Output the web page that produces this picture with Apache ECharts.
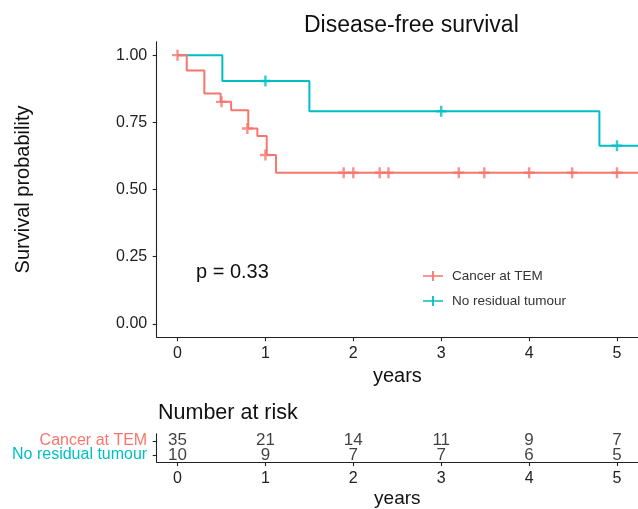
<!DOCTYPE html>
<html>
<head>
<meta charset="utf-8">
<script src="https://cdn.jsdelivr.net/npm/echarts@6/dist/echarts.min.js"></script>
<style>
html,body{margin:0;padding:0;background:#fff;}
#chart{width:638px;height:509px;}
</style>
</head>
<body>
<div id="chart"></div>
<script>
// ---- data ----
const groups = ['Cancer at TEM', 'No residual tumour'];
const xTicks = [0, 1, 2, 3, 4, 5];
const yTicks = [0, 0.25, 0.5, 0.75, 1];

const temTimes = [0, 0.105, 0.305, 0.49, 0.61, 0.805, 0.908, 1.015, 1.12, 5.3];
const temSurv  = [1, 0.943, 0.857, 0.826, 0.795, 0.727, 0.699, 0.628, 0.562, 0.562];
const temCensorTimes = [0, 0.5, 0.795, 1.0, 1.89, 2.0, 2.3, 2.4, 3.2, 3.49, 4.0, 4.49, 5.0];
const temCensorSurv  = [1, 0.826, 0.727, 0.628, 0.562, 0.562, 0.562, 0.562, 0.562, 0.562, 0.562, 0.562, 0.562];

const nrtTimes = [0, 0.51, 1.5, 4.8, 5.3];
const nrtSurv  = [1, 0.904, 0.791, 0.663, 0.663];
const nrtCensorTimes = [1.0, 3.0, 5.0];
const nrtCensorSurv  = [0.904, 0.791, 0.663];

const riskTimes = [0, 1, 2, 3, 4, 5];
const riskTem = [35, 21, 14, 11, 9, 7];
const riskNrt = [10, 9, 7, 7, 6, 5];

const pText = 'p = 0.33';

// ---- styles ----
const RED = '#F8766D', TEAL = '#00BFC4';
const FONT = '"Liberation Sans", Arial, Helvetica, sans-serif';
const PLUS = 'path://M0,3.9 L10,3.9 L10,6.1 L0,6.1 Z M3.9,0 L6.1,0 L6.1,10 L3.9,10 Z';
const LEG_ICON = 'path://M0,4.2 L20,4.2 L20,5.8 L0,5.8 Z M9.1,0 L10.9,0 L10.9,10 L9.1,10 Z';
const X_MIN = -0.237, X_MAX = 5.239;

const zip = (a, b) => a.map((v, i) => [v, b[i]]);

const axisLine = {show: true, onZero: false, lineStyle: {color: '#222', width: 1.1}};
const axisTick = {show: true, length: 4, lineStyle: {color: '#222', width: 1.1}};

const chart = echarts.init(document.getElementById('chart'), null, {renderer: 'canvas'});
chart.setOption({
  animation: false,
  backgroundColor: '#fff',
  textStyle: {fontFamily: FONT},
  title: [
    {text: 'Disease-free survival', left: 299, top: 9,
     textStyle: {fontFamily: FONT, fontSize: 23, fontWeight: 'normal', color: '#111'}},
    {text: 'Number at risk', left: 153, top: 397,
     textStyle: {fontFamily: FONT, fontSize: 21.5, fontWeight: 'normal', color: '#111'}}
  ],
  graphic: [
    {type: 'text', left: 196, top: 262,
     style: {text: pText, font: '20px ' + FONT, fill: '#111'}}
  ],
  legend: {
    data: groups.map(g => ({name: g, icon: LEG_ICON})),
    orient: 'vertical', left: 418, top: 264,
    itemWidth: 20, itemHeight: 14, itemGap: 11,
    textStyle: {fontFamily: FONT, fontSize: 13.5, color: '#333', padding: [0, 0, 0, 4], lineHeight: 14}
  },
  grid: [
    {left: 156.7, right: 0, top: 41.7, height: 295.5, containLabel: false},
    {left: 156.7, right: 0, top: 433.7, height: 32, containLabel: false}
  ],
  xAxis: [
    {type: 'value', gridIndex: 0, min: X_MIN, max: X_MAX,
     name: 'years', nameLocation: 'middle', nameGap: 29,
     nameTextStyle: {fontFamily: FONT, fontSize: 20, color: '#111'},
     axisLine: axisLine, axisTick: Object.assign({customValues: xTicks}, axisTick),
     axisLabel: {customValues: xTicks, margin: 8, fontFamily: FONT, fontSize: 16, color: '#222'},
     splitLine: {show: false}},
    {type: 'value', gridIndex: 1, min: X_MIN, max: X_MAX,
     name: 'years', nameLocation: 'middle', nameGap: 27,
     nameTextStyle: {fontFamily: FONT, fontSize: 19, color: '#111'},
     axisLine: axisLine, axisTick: Object.assign({customValues: xTicks}, axisTick),
     axisLabel: {customValues: xTicks, margin: 9, fontFamily: FONT, fontSize: 16, color: '#222'},
     splitLine: {show: false}}
  ],
  yAxis: [
    {type: 'value', gridIndex: 0, min: -0.05, max: 1.05,
     name: 'Survival probability', nameLocation: 'middle', nameGap: 123, nameRotate: 90,
     nameTextStyle: {fontFamily: FONT, fontSize: 20, color: '#111'},
     axisLine: axisLine, axisTick: Object.assign({customValues: yTicks}, axisTick),
     axisLabel: {customValues: yTicks, margin: 9.5, fontFamily: FONT, fontSize: 16, color: '#222',
                 formatter: v => v.toFixed(2)},
     splitLine: {show: false}},
    {type: 'category', gridIndex: 1, data: groups.slice().reverse(),
     axisLine: axisLine, axisTick: Object.assign({alignWithLabel: true, interval: 0}, axisTick),
     axisLabel: {interval: 0, hideOverlap: false, margin: 9.5, fontFamily: FONT, fontSize: 16,
                 color: v => (v === groups[0] ? RED : TEAL)},
     splitLine: {show: false}}
  ],
  series: [
    {name: groups[0], type: 'line', step: 'end', xAxisIndex: 0, yAxisIndex: 0,
     data: zip(temTimes, temSurv), showSymbol: false, symbol: 'none',
     lineStyle: {color: RED, width: 2}, itemStyle: {color: RED}, clip: true, z: 3},
    {name: groups[1], type: 'line', step: 'end', xAxisIndex: 0, yAxisIndex: 0,
     data: zip(nrtTimes, nrtSurv), showSymbol: false, symbol: 'none',
     lineStyle: {color: TEAL, width: 2}, itemStyle: {color: TEAL}, clip: true, z: 2},
    {name: groups[0] + ' censor', type: 'scatter', xAxisIndex: 0, yAxisIndex: 0,
     data: zip(temCensorTimes, temCensorSurv), symbol: PLUS, symbolSize: 11,
     itemStyle: {color: RED}, z: 4},
    {name: groups[1] + ' censor', type: 'scatter', xAxisIndex: 0, yAxisIndex: 0,
     data: zip(nrtCensorTimes, nrtCensorSurv), symbol: PLUS, symbolSize: 11,
     itemStyle: {color: TEAL}, z: 4},
    {name: 'risk ' + groups[0], type: 'scatter', xAxisIndex: 1, yAxisIndex: 1,
     data: riskTimes.map((t, i) => [t, groups[0], riskTem[i]]), symbolSize: 0,
     label: {show: true, position: 'inside', formatter: p => p.value[2],
             fontFamily: FONT, fontSize: 17, color: '#111'}},
    {name: 'risk ' + groups[1], type: 'scatter', xAxisIndex: 1, yAxisIndex: 1,
     data: riskTimes.map((t, i) => [t, groups[1], riskNrt[i]]), symbolSize: 0,
     label: {show: true, position: 'inside', formatter: p => p.value[2],
             fontFamily: FONT, fontSize: 17, color: '#111'}}
  ]
});
</script>
</body>
</html>
